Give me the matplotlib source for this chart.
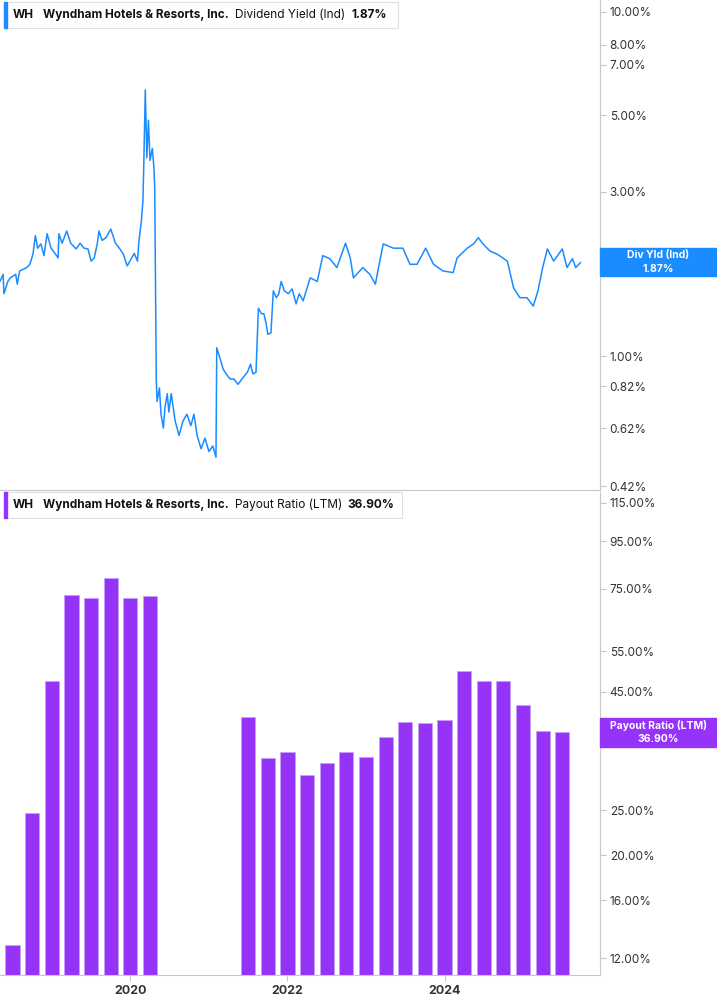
import numpy as np
import matplotlib.pyplot as plt
from matplotlib.ticker import FixedLocator, NullLocator

plt.rcParams['font.family'] = 'Inter'

# dividend yield (%), decimal years
yld_t = [2018.34, 2018.38, 2018.39, 2018.44, 2018.47, 2018.54, 2018.56, 2018.59, 2018.68, 2018.72,
         2018.76, 2018.79, 2018.82, 2018.86, 2018.90, 2018.94, 2018.99, 2019.04, 2019.08, 2019.09,
         2019.13, 2019.19, 2019.24, 2019.31, 2019.36, 2019.41, 2019.46, 2019.50, 2019.54, 2019.58,
         2019.60, 2019.64, 2019.69, 2019.75, 2019.81, 2019.86, 2019.91, 2019.96, 2020.01, 2020.05,
         2020.09, 2020.11, 2020.14, 2020.16, 2020.17, 2020.19, 2020.21, 2020.23, 2020.25, 2020.28,
         2020.30, 2020.31, 2020.33, 2020.34, 2020.37, 2020.39, 2020.42, 2020.44, 2020.47, 2020.49,
         2020.52, 2020.57, 2020.62, 2020.67, 2020.72, 2020.77, 2020.81, 2020.85, 2020.90, 2020.95,
         2021.00, 2021.05, 2021.09, 2021.10, 2021.14, 2021.18, 2021.22, 2021.27, 2021.32, 2021.37,
         2021.42, 2021.49, 2021.53, 2021.56, 2021.60, 2021.63, 2021.67, 2021.70, 2021.73, 2021.75,
         2021.79, 2021.82, 2021.86, 2021.89, 2021.92, 2021.96, 2022.01, 2022.06, 2022.11, 2022.15,
         2022.20, 2022.29, 2022.38, 2022.45, 2022.54, 2022.63, 2022.74, 2022.80, 2022.84, 2022.96,
         2023.05, 2023.12, 2023.16, 2023.22, 2023.35, 2023.47, 2023.56, 2023.65, 2023.76, 2023.86,
         2023.98, 2024.11, 2024.16, 2024.29, 2024.37, 2024.43, 2024.49, 2024.58, 2024.67, 2024.80,
         2024.88, 2024.96, 2025.05, 2025.13, 2025.19, 2025.25, 2025.31, 2025.39, 2025.50, 2025.56,
         2025.63, 2025.67, 2025.73]
yld_v = [1.65, 1.73, 1.52, 1.65, 1.69, 1.73, 1.62, 1.77, 1.81, 1.85,
         1.98, 2.24, 2.06, 2.12, 1.96, 2.27, 2.06, 1.99, 1.93, 2.27,
         2.13, 2.31, 2.13, 2.05, 2.13, 2.06, 2.05, 1.89, 1.93, 2.13,
         2.31, 2.17, 2.21, 2.34, 2.13, 2.06, 1.98, 1.83, 1.92, 1.99,
         1.89, 2.17, 2.47, 2.83, 3.53, 5.93, 3.77, 4.84, 3.70, 4.01,
         3.53, 3.09, 0.86, 0.74, 0.81, 0.68, 0.62, 0.71, 0.78, 0.69,
         0.78, 0.65, 0.59, 0.65, 0.68, 0.63, 0.68, 0.59, 0.54, 0.58,
         0.53, 0.55, 0.51, 1.06, 0.99, 0.92, 0.89, 0.86, 0.86, 0.83,
         0.86, 0.90, 0.95, 0.89, 0.90, 1.38, 1.33, 1.33, 1.24, 1.16,
         1.17, 1.55, 1.48, 1.52, 1.65, 1.55, 1.52, 1.57, 1.42, 1.52,
         1.45, 1.69, 1.65, 1.96, 1.92, 1.81, 2.13, 1.93, 1.69, 1.81,
         1.73, 1.62, 1.81, 2.12, 2.06, 2.06, 1.85, 1.85, 2.06, 1.85,
         1.77, 1.75, 1.93, 2.06, 2.12, 2.21, 2.12, 2.02, 1.98, 1.89,
         1.58, 1.48, 1.48, 1.40, 1.55, 1.81, 2.05, 1.89, 2.05, 1.81,
         1.92, 1.81, 1.87]

# payout ratio LTM (%), quarter ends
pay_t = [2018.5, 2018.75, 2019.0, 2019.25, 2019.5, 2019.75, 2020.0, 2020.25,
         2021.5, 2021.75, 2022.0, 2022.25, 2022.5, 2022.75, 2023.0, 2023.25, 2023.5,
         2023.75, 2024.0, 2024.25, 2024.5, 2024.75, 2025.0, 2025.25, 2025.5]
pay_v = [12.8, 24.6, 47.5, 72.8, 71.8, 79.2, 71.5, 72.3,
         39.7, 32.4, 33.3, 29.8, 31.6, 33.3, 32.6, 35.9, 38.7,
         38.5, 39.2, 49.8, 47.4, 47.4, 42.1, 37.0, 36.9]

yld_ticks = [0.42, 0.62, 0.82, 1.0, 2.0, 3.0, 5.0, 7.0, 8.0, 10.0]
pay_ticks = [12, 16, 20, 25, 35, 45, 55, 75, 95, 115]
year_ticks = [2020, 2022, 2024]

BLUE = '#1a8cff'
PURPLE = '#9533f9'
GREY = '#c8c8c8'
TXT = '#333333'

fig = plt.figure(figsize=(7.17, 10.05), dpi=100)
W, H = 717, 1005
ax1 = fig.add_axes([0, 1 - 490 / H, 600 / W, 490 / H])
ax2 = fig.add_axes([0, 1 - 975 / H, 600 / W, 483 / H])

ax1.plot(yld_t, yld_v, color=BLUE, lw=1.1)
ax1.set_yscale('log')
ax1.set_ylim(0.41, 10.8)

ax2.set_yscale('log')
ax2.bar(pay_t, [v - 1 for v in pay_v], bottom=1, width=0.18, color=PURPLE,
        edgecolor='#c9a0fb', linewidth=0.6)
ax2.set_ylim(11.03, 121.3)

for ax, ticks in ((ax1, yld_ticks), (ax2, pay_ticks)):
    ax.set_xlim(2018.34, 2025.98)
    ax.yaxis.tick_right()
    ax.yaxis.set_major_locator(FixedLocator(ticks))
    ax.yaxis.set_minor_locator(NullLocator())
    ax.set_yticklabels([f'{t:.2f}%' for t in ticks])
    ax.tick_params(axis='y', length=4, color=GREY, labelsize=8.5, labelcolor=TXT, pad=3)
    for s in ('left', 'top'):
        ax.spines[s].set_visible(False)
    ax.spines['right'].set_color(GREY)
    ax.spines['bottom'].set_color(GREY)

ax1.set_xticks([])
ax2.set_xticks(year_ticks)
ax2.set_xticklabels([str(y) for y in year_ticks], fontweight='bold', fontsize=9, color=TXT)
ax2.tick_params(axis='x', length=4, color=GREY)

# header boxes
def header(y, color, label, val, width, vx):
    fig.patches.append(plt.Rectangle((4 / W, 1 - (y + 13) / H), width / W, 26 / H,
                                     transform=fig.transFigure, facecolor='white',
                                     edgecolor='#e0e0e0', lw=0.8))
    fig.patches.append(plt.Rectangle((4 / W, 1 - (y + 13) / H), 3 / W, 26 / H,
                                     transform=fig.transFigure, color=color))
    yy = 1 - y / H
    fig.text(13 / W, yy, 'WH', fontsize=8.5, fontweight='bold', va='center', color='#111')
    fig.text(43 / W, yy, 'Wyndham Hotels & Resorts, Inc.', fontsize=8.5, fontweight='bold', va='center', color='#111')
    fig.text(235 / W, yy, label, fontsize=8.5, va='center', color='#111')
    fig.text(vx / W, yy, val, fontsize=8.5, fontweight='bold', va='center', color='#111')

header(15, BLUE, 'Dividend Yield (Ind)', '1.87%', 394, 352)
header(505, PURPLE, 'Payout Ratio (LTM)', '36.90%', 398, 347)

# right value tags
def tag(y0, y1, color, l1, l2):
    fig.patches.append(plt.Rectangle((600 / W, 1 - y1 / H), 117 / W, (y1 - y0) / H,
                                     transform=fig.transFigure, color=color))
    yc = 1 - (y0 + y1) / 2 / H
    fig.text(658 / W, yc + 7 / H, l1, fontsize=7.5, fontweight='bold', color='white', ha='center', va='center')
    fig.text(658 / W, yc - 7 / H, l2, fontsize=7.5, fontweight='bold', color='white', ha='center', va='center')

tag(248, 276, BLUE, 'Div Yld (Ind)', '1.87%')
tag(718, 747, PURPLE, 'Payout Ratio (LTM)', '36.90%')

fig.savefig('out.png', dpi=100)
